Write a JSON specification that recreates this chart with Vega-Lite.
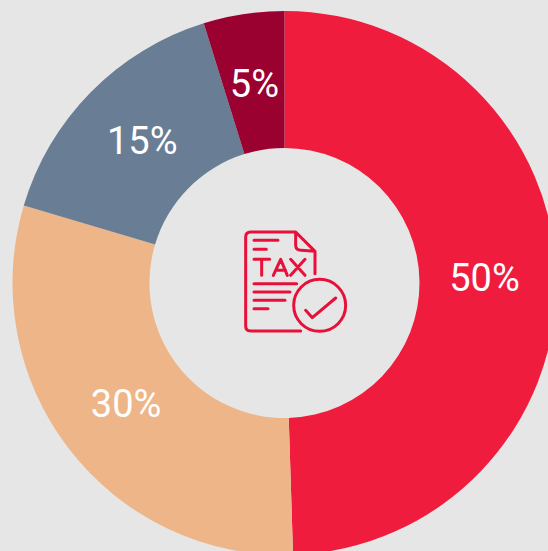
{
  "$schema": "https://vega.github.io/schema/vega-lite/v6.json",
  "width": 548,
  "height": 551,
  "padding": 0,
  "autosize": {"type": "none"},
  "background": "#e6e6e6",
  "view": {"stroke": null},
  "data": {"values": [
    {"item": "A", "share": 49.5, "label": "50%", "rank": 1},
    {"item": "B", "share": 30.1, "label": "30%", "rank": 2},
    {"item": "C", "share": 15.6, "label": "15%", "rank": 3},
    {"item": "D", "share": 4.8, "label": "5%", "rank": 4}
  ]},
  "layer": [
    {
      "mark": {"type": "arc", "radius": 272, "radius2": 135, "xOffset": 10.5, "yOffset": 7.5},
      "encoding": {
        "theta": {"field": "share", "type": "quantitative", "stack": true},
        "order": {"field": "rank", "type": "ordinal"},
        "color": {
          "field": "item", "type": "nominal", "legend": null,
          "scale": {"domain": ["A", "B", "C", "D"], "range": ["#f01c3e", "#eeb688", "#697e94", "#9a0030"]}
        }
      }
    },
    {
      "mark": {"type": "text", "radius": 200, "xOffset": 10.5, "yOffset": 8, "font": "Roboto", "fontSize": 38, "fill": "#ffffff", "align": "center", "baseline": "middle"},
      "encoding": {
        "theta": {"field": "share", "type": "quantitative", "stack": true},
        "order": {"field": "rank", "type": "ordinal"},
        "text": {"field": "label", "type": "nominal"}
      }
    },
    {
      "data": {"values": [{"icon": "tax"}]},
      "mark": {
        "type": "point", "filled": false, "fill": "transparent", "stroke": "#e8103a", "strokeWidth": 3, "opacity": 1, "strokeCap": "round", "strokeJoin": "round",
        "size": 0.4444, "xOffset": 22, "yOffset": 6,
        "shape": "M14 148.5 L-136 148.5 Q-151 148.5 -151 133.5 L-151 -133.5 Q-151 -148.5 -136 -148.5 L-1 -148.5 L57 -90.5 L57 -23.5 M-1 -148.5 L-1 -108.5 Q-1 -93.5 15 -93.5 L57 -90.5 M-126 -123.5 L-54 -123.5 M-126 -96.5 L-89 -96.5 M-126 6.5 L2 6.5 M-126 31.5 L-18 31.5 M-126 56.5 L-33 56.5 M-126 81.5 L-84 81.5 M-126 -66.5 L-79 -66.5 M-103 -66.5 L-103 -18.5 M-68 -18.5 L-46 -66.5 L-26 -18.5 M-61 -33.5 L-31 -33.5 M-16 -66.5 L27 -18.5 M27 -66.5 L-16 -18.5 M-7 71.5 A78 78 0 1 0 149 71.5 A78 78 0 1 0 -7 71.5 Z M29 86.5 L49 108.5 L119 49.5"
      },
      "encoding": {}
    }
  ]
}
